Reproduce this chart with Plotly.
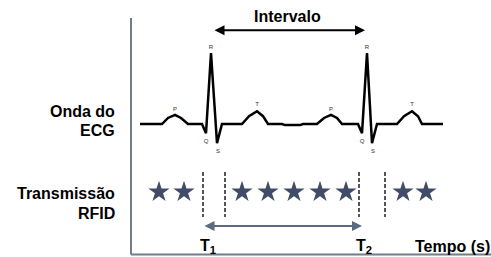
import plotly.graph_objects as go

# ---- data (time in s, ECG amplitude in mV) ----
ecg_time = [0.09, 0.31, 0.37, 0.44, 0.50, 0.57, 0.71, 0.75, 0.80, 0.86, 0.91,
            1.11, 1.18, 1.26, 1.32, 1.37, 1.51, 1.54, 1.69, 1.72,
            1.86, 1.93, 2.00, 2.06, 2.11, 2.27, 2.31, 2.36, 2.41, 2.46,
            2.66, 2.73, 2.81, 2.87, 2.91, 3.12]
ecg_mv = [0, 0, 0.085, 0.13, 0.085, 0, 0, -0.13, 1.0, -0.27, 0,
          0, 0.11, 0.18, 0.11, 0, 0, -0.015, -0.015, 0,
          0, 0.085, 0.13, 0.085, 0, 0, -0.13, 1.0, -0.27, 0,
          0, 0.11, 0.18, 0.11, 0, 0]

wave_names = ["P", "Q", "R", "S", "T", "P", "Q", "R", "S", "T"]
wave_time = [0.44, 0.75, 0.80, 0.87, 1.26, 2.00, 2.31, 2.36, 2.42, 2.81]
wave_mv = [0.21, -0.24, 1.08, -0.39, 0.28, 0.21, -0.24, 1.08, -0.39, 0.28]

star_times = [0.28, 0.53, 1.11, 1.37, 1.63, 1.89, 2.15, 2.72, 2.95]
rfid_level = -0.958

sync_times = [0.72, 0.94, 2.28, 2.54]
sync_top, sync_bottom = -0.676, -1.31

r_peaks = [0.82, 2.34]      # Intervalo arrow ends
t_marks = [0.72, 2.31]      # T1 -> T2 arrow ends
t_labels = ["T<sub>1</sub>", "T<sub>2</sub>"]
t_label_time = [0.77, 2.33]

FONT = "Liberation Sans, Arial, sans-serif"
AXIS_COLOR = "#6f7c8c"
T_END = 3.60
V_TOP, V_BOTTOM = 1.493, -1.838

fig = go.Figure()

# axes of the diagram
fig.add_shape(type="line", x0=0, x1=0, y0=V_TOP, y1=V_BOTTOM,
              line=dict(color=AXIS_COLOR, width=2))
fig.add_shape(type="line", x0=0, x1=T_END, y0=V_BOTTOM, y1=V_BOTTOM,
              line=dict(color=AXIS_COLOR, width=2))

fig.add_trace(go.Scatter(x=ecg_time, y=ecg_mv, mode="lines",
                         line=dict(color="black", width=2.5),
                         hoverinfo="skip", showlegend=False))

fig.add_trace(go.Scatter(x=wave_time, y=wave_mv, mode="text", text=wave_names,
                         textfont=dict(size=6, color="#333", family=FONT),
                         hoverinfo="skip", showlegend=False))

fig.add_trace(go.Scatter(x=star_times, y=[rfid_level] * len(star_times),
                         mode="markers",
                         marker=dict(symbol="star", size=16, color="#404c68"),
                         hoverinfo="skip", showlegend=False))

sx, sy = [], []
for t in sync_times:
    sx += [t, t, None]
    sy += [sync_top, sync_bottom, None]
fig.add_trace(go.Scatter(x=sx, y=sy, mode="lines",
                         line=dict(color="#555555", width=2, dash="4px,2px"),
                         hoverinfo="skip", showlegend=False))

# Intervalo arrow (double headed)
fig.add_annotation(x=r_peaks[1], y=1.32, ax=r_peaks[0], ay=1.32,
                   xref="x", yref="y", axref="x", ayref="y", text="",
                   showarrow=True, arrowhead=2, arrowside="end+start",
                   arrowwidth=2, arrowsize=1, arrowcolor="black")
fig.add_annotation(x=(r_peaks[0] + r_peaks[1]) / 2 - 0.02, y=1.52, text="<b>Intervalo</b>",
                   showarrow=False, font=dict(size=16, color="black", family=FONT))

# T1 -> T2 arrow
fig.add_annotation(x=t_marks[1], y=-1.437, ax=t_marks[0], ay=-1.437,
                   xref="x", yref="y", axref="x", ayref="y", text="",
                   showarrow=True, arrowhead=2, arrowside="end+start",
                   arrowwidth=2, arrowsize=1, arrowcolor="#5b6a80")

for lab, t in zip(t_labels, t_label_time):
    fig.add_annotation(x=t, y=-1.732, text="<b>" + lab + "</b>", showarrow=False,
                       font=dict(size=16, color="black", family=FONT))

fig.add_annotation(x=2.82, y=-1.732, text="<b>Tempo (s)</b>", showarrow=False,
                   xanchor="left", font=dict(size=16, color="black", family=FONT))

left_lines = [("Onda do", 0.183), ("ECG", -0.085), ("Transmissão", -0.972), ("RFID", -1.254)]
for txt, yv in left_lines:
    fig.add_annotation(x=-0.14, y=yv, text="<b>" + txt + "</b>", showarrow=False,
                       xanchor="right", font=dict(size=16, color="black", family=FONT))

fig.update_xaxes(range=[-1.31, 3.60], visible=False)
fig.update_yaxes(range=[-1.873, 1.7465], visible=False)

fig.update_layout(width=491, height=257, margin=dict(l=0, r=0, t=0, b=0),
                  plot_bgcolor="white", paper_bgcolor="white", showlegend=False)

fig.write_html("out.html", config={"displayModeBar": False},
               post_script="document.body.style.margin='0';")
